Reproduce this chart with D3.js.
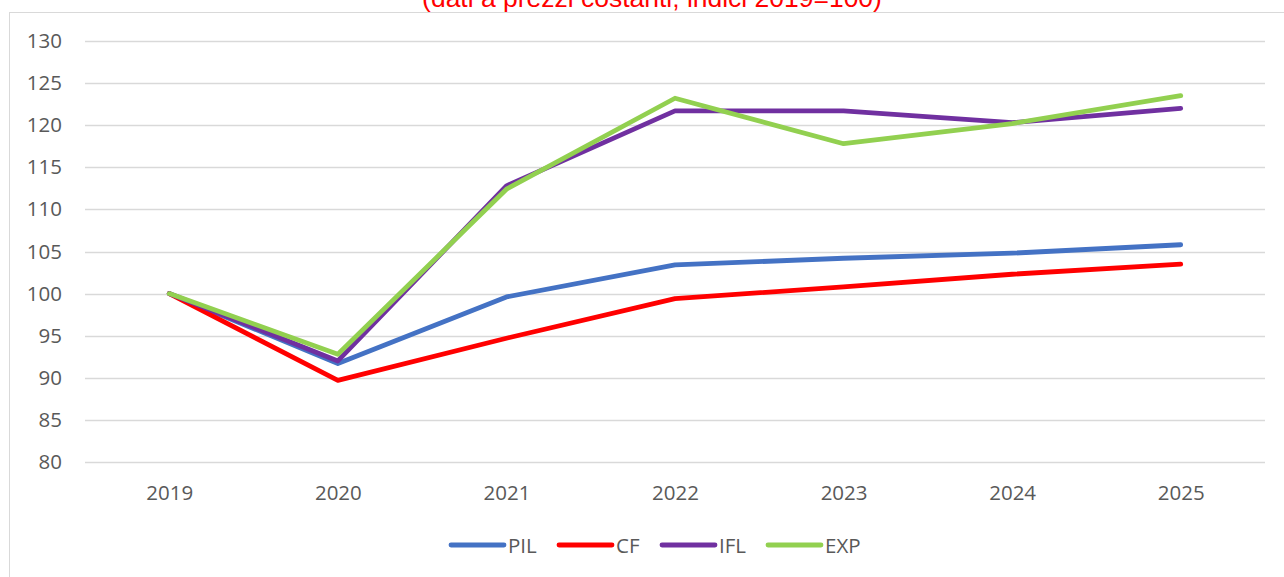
<!DOCTYPE html>
<html>
<head>
<meta charset="utf-8">
<script src="https://cdn.jsdelivr.net/npm/d3@7"></script>
<style>
html,body{margin:0;padding:0;background:#fff;}
svg{display:block;}
</style>
</head>
<body>
<svg id="chart" width="1284" height="577"></svg>
<script>
const years = ["2019","2020","2021","2022","2023","2024","2025"];
const PIL = [100, 91.7, 99.6, 103.4, 104.2, 104.8, 105.8];
const CF  = [100, 89.7, 94.7, 99.4, 100.8, 102.3, 103.5];
const IFL = [100, 92.0, 112.8, 121.7, 121.7, 120.3, 122.0];
const EXP = [100, 92.8, 112.4, 123.2, 117.8, 120.2, 123.5];
const seriesNames = ["PIL","CF","IFL","EXP"];
const seriesColors = ["#4472C4","#FF0000","#7030A0","#92D050"];
const yTicks = [80,85,90,95,100,105,110,115,120,125,130];
const title = "(dati a prezzi costanti; indici 2019=100)";

const svg = d3.select("#chart");
const font = "'Open Sans', 'Noto Sans', sans-serif";
const fs = "20.5px";

// chart border
svg.append("rect").attr("x",9.5).attr("y",12.5).attr("width",1300).attr("height",600)
  .attr("fill","#fff").attr("stroke","#d9d9d9").attr("stroke-width",1);

// title (partially cut off, as in the original)
const t = svg.append("text").attr("x",652).attr("y",7).attr("text-anchor","middle")
  .attr("fill","#FF0000").style("font-family","'Liberation Sans', Arial, sans-serif")
  .style("font-size","20px").text(title);
const tw = t.node().getComputedTextLength();
t.style("font-size", (20*460/tw).toFixed(2)+"px");

const x = d3.scalePoint().domain(years).range([85,1265]).padding(0.5);
const y = d3.scaleLinear().domain([80,130]).range([462,41]);

// gridlines
svg.append("g").selectAll("line").data(yTicks).join("line")
  .attr("x1",85).attr("x2",1265)
  .attr("y1",d=>Math.round(y(d))+0.5).attr("y2",d=>Math.round(y(d))+0.5)
  .attr("stroke","#d9d9d9").attr("stroke-width",1.3);

// y axis labels
const yAxis = d3.axisLeft(y).tickValues(yTicks).tickSize(0).tickPadding(0);
const gy = svg.append("g").attr("transform","translate(62,0)").call(yAxis);
gy.select(".domain").remove();
gy.selectAll("text").attr("fill","#595959").style("font-family",font).style("font-size",fs);

// x axis labels
const xAxis = d3.axisBottom(x).tickSize(0).tickPadding(0);
const gx = svg.append("g").attr("transform","translate(0,485)").call(xAxis);
gx.select(".domain").remove();
gx.selectAll("text").attr("fill","#595959").style("font-family",font).style("font-size",fs);

// lines
const data = [PIL, CF, IFL, EXP];
const line = d3.line().x((d,i)=>x(years[i])).y(d=>y(d));
svg.append("g").selectAll("path").data(data).join("path")
  .attr("d",line).attr("fill","none")
  .attr("stroke",(d,i)=>seriesColors[i]).attr("stroke-width",4.8)
  .attr("stroke-linejoin","round").attr("stroke-linecap","round");

// legend
const legendX = [451, 559, 662, 768];
const lg = svg.append("g");
seriesNames.forEach((n,i)=>{
  lg.append("line").attr("x1",legendX[i]).attr("x2",legendX[i]+53)
    .attr("y1",545).attr("y2",545).attr("stroke",seriesColors[i])
    .attr("stroke-width",4.8).attr("stroke-linecap","round");
  lg.append("text").attr("x",legendX[i]+57).attr("y",552.5)
    .attr("fill","#595959").style("font-family",font).style("font-size",fs).text(n);
});
</script>
</body>
</html>
